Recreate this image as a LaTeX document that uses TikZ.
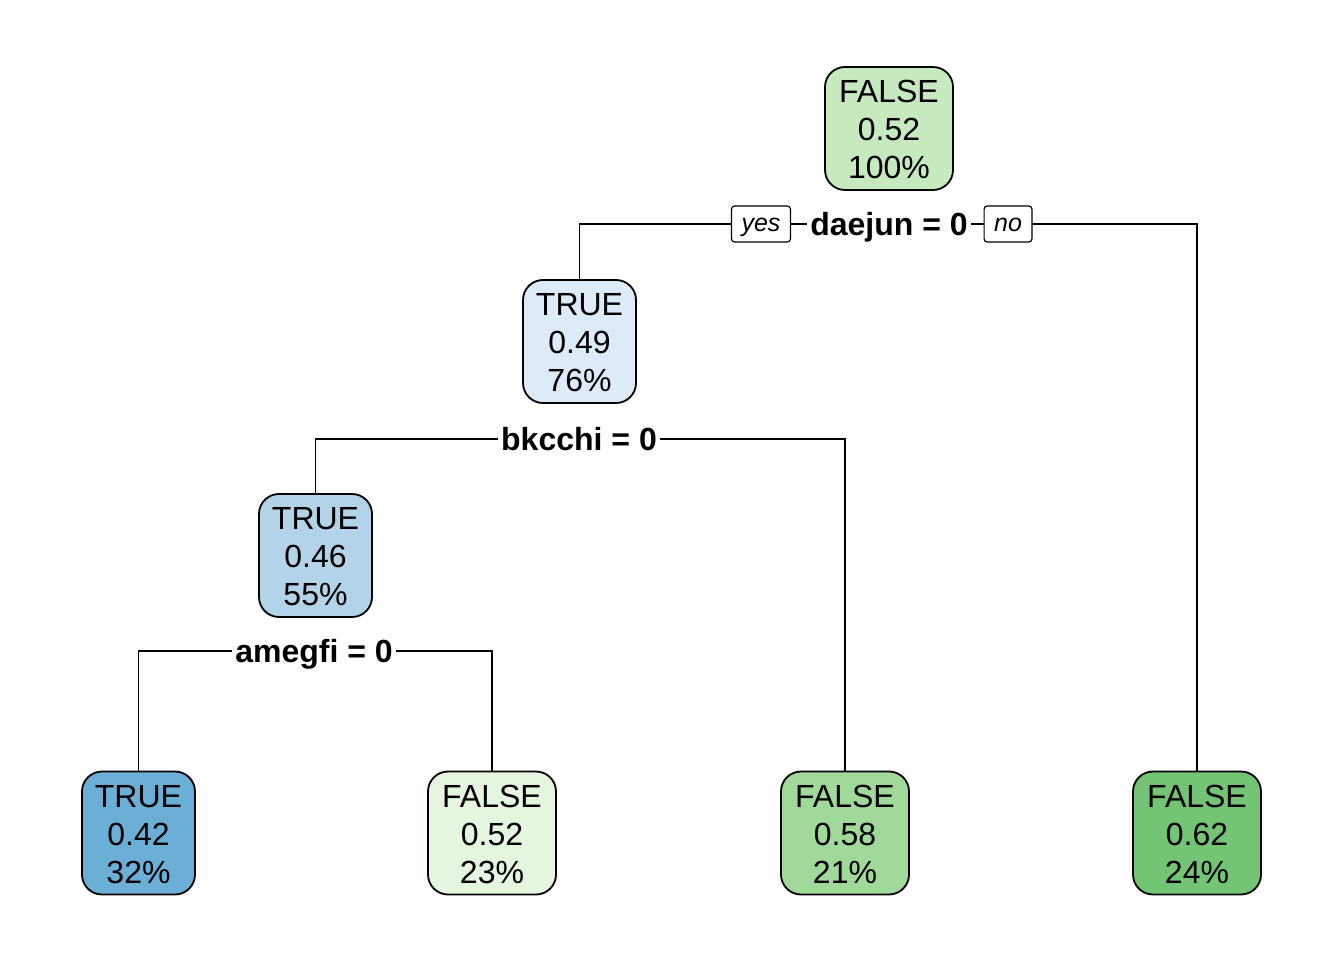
\documentclass[tikz,border=0pt]{standalone}
\usepackage{fontspec}
\setmainfont{Liberation Sans}
\definecolor{cRoot}{HTML}{C7E9C0}
\definecolor{cT49}{HTML}{DEEBF7}
\definecolor{cT46}{HTML}{B3D3E8}
\definecolor{cT42}{HTML}{6BAED6}
\definecolor{cF52}{HTML}{E5F5E0}
\definecolor{cF58}{HTML}{A1D99B}
\definecolor{cF62}{HTML}{74C476}
\newcommand{\tnl}[3]{\rule{0pt}{25pt}#1\\#2\\#3}
\tikzset{
  treenode/.style={draw=black, line width=1.8pt, rounded corners=20pt, inner sep=0pt,
    minimum height=123pt, align=center,
    font=\fontsize{32}{38}\selectfont},
  widebox/.style={treenode, minimum width=128pt},
  narrowbox/.style={treenode, minimum width=113pt},
  splitlabel/.style={fill=white, inner xsep=3pt, inner ysep=3pt, text height=23pt, text depth=0pt,
    font=\fontsize{32}{36}\selectfont\bfseries},
  yesno/.style={draw=black, fill=white, line width=1.2pt, rounded corners=3pt, inner xsep=10pt,
    inner ysep=0pt, text height=26pt, text depth=10pt, font=\fontsize{25}{28}\selectfont\itshape},
  edge/.style={draw=black, line width=1.8pt}
}
\begin{document}
\begin{tikzpicture}[x=1pt,y=-1pt]
\useasboundingbox (0,0) rectangle (1344,960);
% nodes
\node[widebox, fill=cRoot] (root) at (889,128.5) {\tnl{FALSE}{0.52}{100\%}};
\node[narrowbox, fill=cT49] (n2) at (579.5,341.5) {\tnl{TRUE}{0.49}{76\%}};
\node[narrowbox, fill=cT46] (n4) at (315.5,555.5) {\tnl{TRUE}{0.46}{55\%}};
\node[narrowbox, fill=cT42] (l1) at (138.5,833) {\tnl{TRUE}{0.42}{32\%}};
\node[widebox, fill=cF52] (l2) at (492,833) {\tnl{FALSE}{0.52}{23\%}};
\node[widebox, fill=cF58] (l3) at (845,833) {\tnl{FALSE}{0.58}{21\%}};
\node[widebox, fill=cF62] (l4) at (1197,833) {\tnl{FALSE}{0.62}{24\%}};
% split coordinates
\coordinate (s1) at (889,224);
\coordinate (s2) at (579,439);
\coordinate (s3) at (314,651);
% connectors
\draw[edge] (n2.north) -- (n2.north |- s1) -- (l4.north |- s1) -- (l4.north);
\draw[edge] (n4.north) -- (n4.north |- s2) -- (l3.north |- s2) -- (l3.north);
\draw[edge] (l1.north) -- (l1.north |- s3) -- (l2.north |- s3) -- (l2.north);
% split labels
\node[splitlabel] (lab1) at (s1) {daejun = 0};
\node[splitlabel] (lab2) at (s2) {bkcchi = 0};
\node[splitlabel] (lab3) at (s3) {amegfi = 0};
\node[yesno] (yes) at (761,224) {yes};
\node[yesno] (no) at (1008,224) {no};
\end{tikzpicture}
\end{document}
